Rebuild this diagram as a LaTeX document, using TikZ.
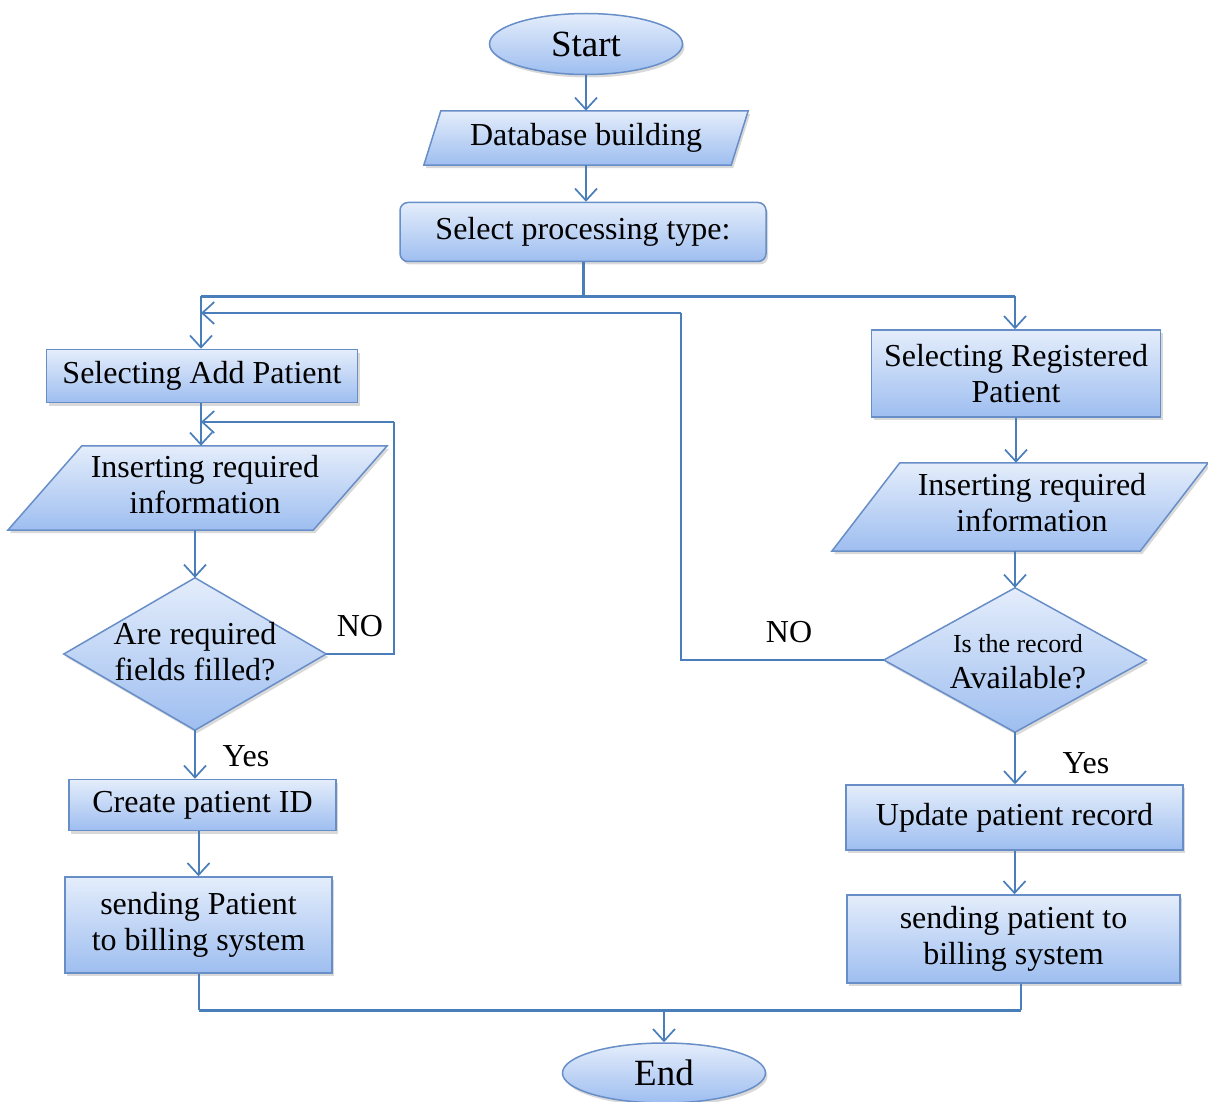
\documentclass[tikz,border=0pt]{standalone}
\usepackage{fontspec}
\setmainfont{Liberation Serif}
\usetikzlibrary{arrows.meta,shapes.geometric,shadows,backgrounds,calc}

\definecolor{edge}{RGB}{74,126,187}
\definecolor{boxline}{RGB}{104,142,200}
\definecolor{filltop}{RGB}{228,237,251}
\definecolor{fillbot}{RGB}{158,190,240}

\tikzset{
  bluefill/.style={top color=filltop, bottom color=fillbot, draw=boxline, line width=1.5pt,
    drop shadow={shadow xshift=2pt, shadow yshift=-3pt, opacity=0.3}},
  txt/.style={font=\fontsize{32}{36}\selectfont, align=center, inner sep=0pt},
  procbox/.style={bluefill, rectangle, txt},
  ellbox/.style={bluefill, ellipse, inner sep=0pt, font=\fontsize{37}{40}\selectfont},
  frame/.style={rectangle, txt},
  conn/.style={draw=edge, line width=2pt, -{Straight Barb[length=12pt,width=22pt,line width=1.7pt]}},
  wire/.style={draw=edge, line width=2pt},
  bus/.style={draw=edge, line width=3pt},
  lbl/.style={font=\fontsize{32}{36}\selectfont, inner sep=0pt}
}

\begin{document}
\begin{tikzpicture}[x=1pt, y=-1pt]
\useasboundingbox (0,0) rectangle (1208,1102);

% main column
\node[ellbox, minimum width=193pt, minimum height=61pt] (start) at (586,44) {Start};
\node[frame, minimum width=324pt, minimum height=54pt] (db) at (586,138) {Database building};
\node[procbox, rounded corners=8pt, minimum width=366pt, minimum height=59pt] (sel) at (583,232) {Select processing type:};

% add-patient branch
\node[procbox, minimum width=311pt, minimum height=53pt] (add) at (202,376) {Selecting Add Patient};
\node[frame, minimum width=379pt, minimum height=84pt] (insL) at (197.5,488) {};
\node[txt] (insLt) at (205,485) {Inserting required\\information};
\node[frame, minimum width=262pt, minimum height=152pt] (chkL) at (195,654) {};
\node[txt] (chkLt) at (195,652) {Are required\\fields filled?};
\node[procbox, minimum width=267pt, minimum height=51pt] (cid) at (202.5,805) {Create patient ID};
\node[procbox, minimum width=267pt, minimum height=96pt] (sendL) at (198.5,925) {sending Patient\\to billing system};

% registered-patient branch
\node[procbox, minimum width=289pt, minimum height=87pt] (reg) at (1016,373.5) {Selecting Registered\\Patient};
\node[frame, minimum width=376pt, minimum height=88pt] (insR) at (1020,507) {};
\node[txt] (insRt) at (1032,503) {Inserting required\\information};
\node[frame, minimum width=262pt, minimum height=144pt] (chkR) at (1015,660) {};
\node[txt] (chkRt) at (1018,662) {{\fontsize{26}{30}\selectfont Is the record}\\Available?};
\node[procbox, minimum width=337pt, minimum height=65pt] (upd) at (1014.5,817.5) {Update patient record};
\node[procbox, minimum width=333pt, minimum height=88pt] (sendR) at (1013.5,939) {sending patient to\\billing system};

\node[ellbox, minimum width=203pt, minimum height=60pt] (end) at (664,1073) {End};

% parallelogram and decision outlines behind their texts
\begin{pgfonlayer}{background}
  \path[bluefill] (db.south west) -- ($(db.south east)+(-17,0)$) -- (db.north east)
        -- ($(db.north west)+(17,0)$) -- cycle;
  \path[bluefill] (insL.south west) -- ($(insL.south east)+(-74,0)$) -- (insL.north east)
        -- ($(insL.north west)+(74,0)$) -- cycle;
  \path[bluefill] (insR.south west) -- ($(insR.south east)+(-68,0)$) -- (insR.north east)
        -- ($(insR.north west)+(68,0)$) -- cycle;
  \path[bluefill] (chkL.north) -- (chkL.east) -- (chkL.south) -- (chkL.west) -- cycle;
  \path[bluefill] (chkR.north) -- (chkR.east) -- (chkR.south) -- (chkR.west) -- cycle;
\end{pgfonlayer}

% helper coordinates for the routed lines
\coordinate (busT) at (0,296);
\coordinate (busB) at (0,1010);
\coordinate (retR) at (681,313);
\coordinate (retL) at (394,422);
\coordinate (brL) at (201,0);
\coordinate (brR) at (1015,0);

% top connectors
\draw[conn] (start.south) -- (start.south |- db.north);
\draw[conn] (db.south) -- (db.south |- sel.north);
\draw[bus] (sel.south) -- (sel.south |- busT);
\draw[bus] (brL |- busT) -- (brR |- busT);
\draw[conn] (brL |- busT) -- (brL |- add.north);
\draw[conn] (brR |- busT) -- (brR |- reg.north);

% left branch
\draw[conn] (brL |- add.south) -- (brL |- insL.north);
\draw[conn] (chkL.north |- insL.south) -- (chkL.north);
\draw[wire] (chkL.east) -| (retL);
\draw[conn] (retL) -- (brL |- retL);
\draw[conn] (chkL.south) -- (chkL.south |- cid.north);
\draw[conn] (sendL.north |- cid.south) -- (sendL.north);

% right branch
\draw[conn] (reg.south) -- (reg.south |- insR.north);
\draw[conn] (chkR.north |- insR.south) -- (chkR.north);
\draw[wire] (chkR.west) -| (retR);
\draw[conn] (retR) -- (brL |- retR);
\draw[conn] (chkR.south) -- (chkR.south |- upd.north);
\draw[conn] (upd.south) -- (upd.south |- sendR.north);

% merge to end
\draw[wire] (sendL.south) -- (sendL.south |- busB);
\draw[wire] (sendR.south) ++(7,0) -- ($(sendR.south |- busB)+(7,0)$);
\draw[bus] (sendL.south |- busB) -- ($(sendR.south |- busB)+(7,0)$);
\draw[conn] (end.north |- busB) -- (end.north);

% branch labels
\node[lbl] (noL) at (360,626) {NO};
\node[lbl] (yesL) at (246,756) {Yes};
\node[lbl] (noR) at (789,632) {NO};
\node[lbl] (yesR) at (1086,763) {Yes};
\end{tikzpicture}
\end{document}
